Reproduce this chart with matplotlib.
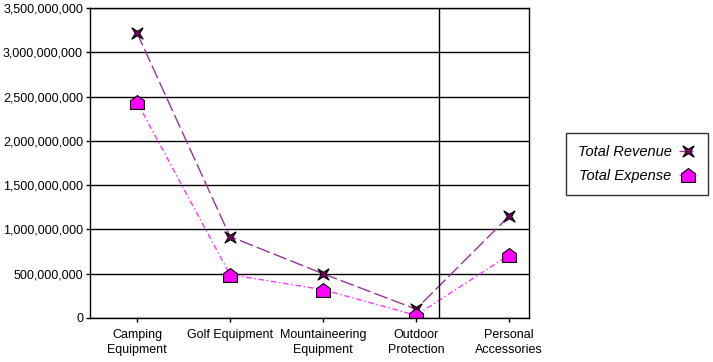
import matplotlib
matplotlib.use("Agg")
import matplotlib.pyplot as plt
from matplotlib.path import Path
from matplotlib.ticker import FuncFormatter

categories = ["Camping\nEquipment", "Golf Equipment", "Mountaineering\nEquipment",
              "Outdoor\nProtection", "Personal\nAccessories"]
revenue = [3.22e9, 0.92e9, 0.50e9, 0.10e9, 1.15e9]
expense = [2.44e9, 0.49e9, 0.32e9, 0.03e9, 0.71e9]

plt.rcParams["font.family"] = ["Liberation Sans", "DejaVu Sans"]

# 4-pointed star with points on the diagonals
star = Path([(1, 1), (0.4, 0), (1, -1), (0, -0.4), (-1, -1),
             (-0.4, 0), (-1, 1), (0, 0.4), (1, 1)])
house = Path([(-1, -1), (1, -1), (1, 0.25), (0, 1), (-1, 0.25), (-1, -1)])

fig = plt.figure(figsize=(7.13, 3.62), dpi=100)
ax = fig.add_axes([90 / 713, 1 - 318 / 362, 439 / 713, 310 / 362])

x = list(range(len(categories)))
ax.plot(x, revenue, color="#993399", lw=1, ls=(0, (10, 3)),
        marker=star, ms=8, mfc="#800060", mec="black", mew=0.8, label="Total Revenue")
ax.plot(x, expense, color="#ff33ff", lw=1, ls=(0, (4, 2, 1, 2)),
        marker=house, ms=10, mfc="#ff00ff", mec="black", mew=0.8, label="Total Expense")

ax.set_ylim(0, 3.5e9)
ax.set_xlim(-0.505, 4.215)
ax.set_yticks([i * 5e8 for i in range(8)])
ax.yaxis.set_major_formatter(FuncFormatter(lambda v, p: f"{int(v):,}"))
ax.grid(axis="y", color="black", lw=1)
ax.set_axisbelow(True)
ax.axvline(3.25, color="black", lw=1)
ax.set_xticks(x)
ax.set_xticklabels(categories, linespacing=1.35)
ax.tick_params(axis="both", direction="out", length=3, width=1, pad=2,
               labelsize=9, color="black")
ax.tick_params(axis="x", pad=5)
for s in ax.spines.values():
    s.set_linewidth(1)

leg = ax.legend(loc="upper left", bbox_to_anchor=(566 / 713, 1 - 133 / 362),
                bbox_transform=fig.transFigure, frameon=True, fancybox=False,
                markerfirst=False, prop={"style": "italic", "size": 10.5},
                handlelength=1.2, handletextpad=0.5, borderpad=0.8,
                borderaxespad=0, labelspacing=0.7)
leg.get_frame().set_edgecolor("black")
leg.get_frame().set_linewidth(1)

fig.savefig("out.png", dpi=100)
